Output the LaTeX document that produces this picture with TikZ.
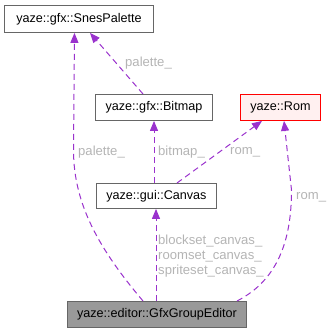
\documentclass[tikz,border=0pt]{standalone}
\usepackage{fontspec}
\setmainfont{Liberation Sans}
\usetikzlibrary{arrows.meta}
\definecolor{edgec}{HTML}{9A32CD}
\definecolor{labelc}{HTML}{B4B4B4}
\definecolor{boxc}{HTML}{666666}
\begin{document}
\begin{tikzpicture}[x=1pt,y=-1pt,
  cls/.style={draw=boxc, fill=white, line width=0.9pt, inner sep=0pt, anchor=north west,
    font=\fontsize{12.6}{14}\selectfont},
  dep/.style={draw=edgec, line width=1pt, dash pattern=on 6pt off 4pt,
    -{Triangle[length=10pt,width=8pt,fill=edgec]}},
  lbl/.style={text=labelc, font=\fontsize{13.1}{15}\selectfont, inner sep=0pt, anchor=west, align=left}]
\useasboundingbox (0,0) rectangle (330,332);

% classes
\node[cls, minimum width=149pt, minimum height=27pt] (pal) at (4,5) {yaze::gfx::SnesPalette};
\node[cls, minimum width=117pt, minimum height=26pt] (bmp) at (95,94) {yaze::gfx::Bitmap};
\node[cls, draw=red, fill={rgb,255:red,255;green,240;blue,240}, minimum width=80pt, minimum height=26pt] (rom) at (240,94) {yaze::Rom};
\node[cls, minimum width=120pt, minimum height=25pt] (cnv) at (96,183) {yaze::gui::Canvas};
\node[cls, fill={rgb,255:red,153;green,153;blue,153}, minimum width=179pt, minimum height=26pt] (ed) at (67,301) {yaze::editor::GfxGroupEditor};

% dependencies
\draw[dep] (ed.north west -| 143,0) .. controls (100,250) and (73.5,205) .. (73.5,150) -- (pal.south west -| 74.5,0);
\node[lbl] (l1) at (78,152) {palette\_};

\draw[dep] (bmp.north west -| 143,0) -- (pal.south west -| 90,0);
\node[lbl] (l2) at (125,63) {palette\_};

\draw[dep] (cnv.north west -| 154,0) -- (bmp.south west -| 154,0);
\node[lbl] (l3) at (158,152) {bitmap\_};

\draw[dep] (cnv.north west -| 177,0) -- (rom.south west -| 262,0);
\node[lbl] (l4) at (230,152) {rom\_};

\draw[dep] (ed.north west -| 156,0) -- (cnv.south west -| 156,0);
\node[lbl] (l5) at (158,256) {blockset\_canvas\_\\roomset\_canvas\_\\spriteset\_canvas\_};

\draw[dep] (ed.north west -| 237,0) .. controls (278,280) and (291.5,240) .. (291.5,190) -- (rom.south west -| 284,0);
\node[lbl] (l6) at (296,197) {rom\_};
\end{tikzpicture}
\end{document}
